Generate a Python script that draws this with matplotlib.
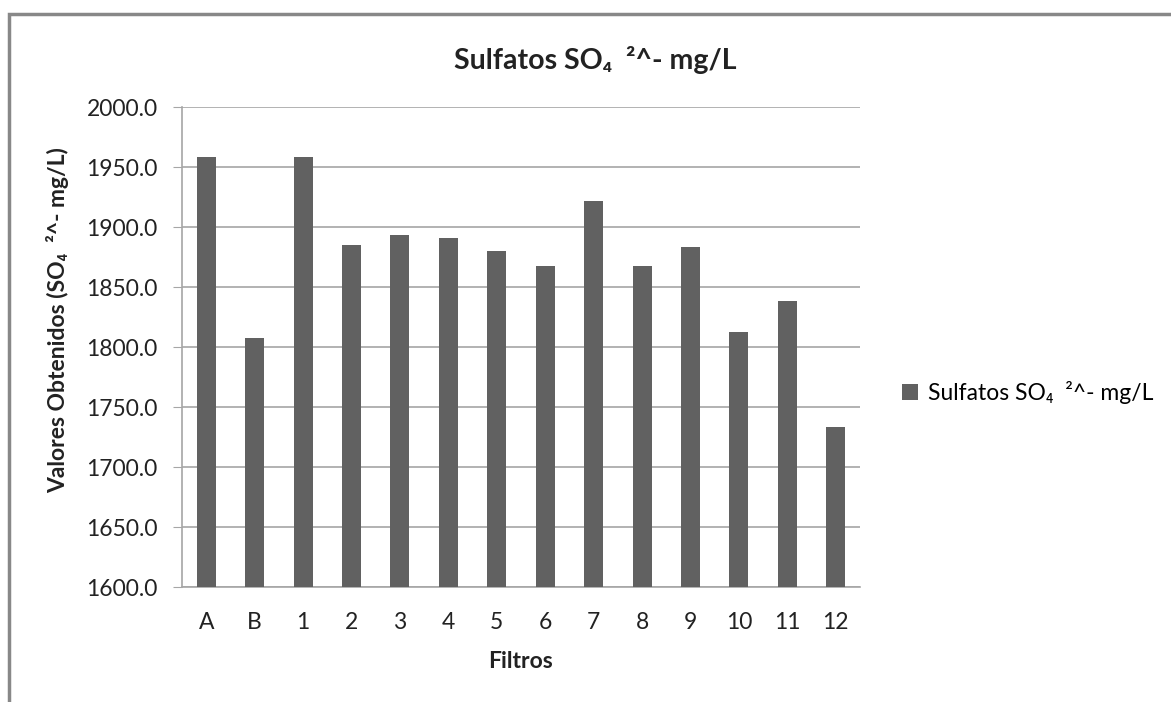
import matplotlib.pyplot as plt
import matplotlib.patches as patches

plt.rcParams['font.family'] = ['Lato', 'DejaVu Sans']

# datos
filtros = ['A', 'B', '1', '2', '3', '4', '5', '6', '7', '8', '9', '10', '11', '12']
sulfatos = [1958.6, 1807.5, 1958.6, 1885.0, 1893.6, 1890.6, 1879.7, 1867.2,
            1921.5, 1867.5, 1883.3, 1812.2, 1838.3, 1733.1]
yticks = [1600, 1650, 1700, 1750, 1800, 1850, 1900, 1950, 2000]

titulo = 'Sulfatos SO\u2084  \u00b2^- mg/L'
bar_color = '#616161'
grid_color = '#a6a6a6'
txt_color = '#222222'

fig = plt.figure(figsize=(11.71, 7.02), dpi=100)
ax = fig.add_axes([182/1171, 1 - 587/702, (860-182)/1171, (587-107)/702])

x = range(len(filtros))
ax.bar(x, sulfatos, width=0.39, color=bar_color, label=titulo, zorder=3)

ax.set_xlim(-0.5, len(filtros) - 0.5)
ax.set_ylim(1600, 2000)
ax.set_yticks(yticks)
ax.set_yticklabels(['%.1f' % v for v in yticks], fontsize=16.5, color=txt_color)
ax.set_xticks(list(x))
ax.set_xticklabels(filtros, fontsize=16.5, color=txt_color)
ax.yaxis.grid(True, color=grid_color, linewidth=1.2, zorder=0)

for s in ['top', 'right']:
    ax.spines[s].set_visible(False)
ax.spines['left'].set_color(grid_color)
ax.spines['bottom'].set_color(grid_color)
ax.spines['left'].set_linewidth(1.2)
ax.spines['bottom'].set_linewidth(1.2)
ax.tick_params(axis='y', length=6.5, color=grid_color, pad=11, direction='out')
ax.tick_params(axis='x', length=0, pad=18)

ax.set_xlabel('Filtros', fontsize=16.5, fontweight='bold', labelpad=13, color=txt_color)
ax.set_ylabel('Valores Obtenidos (SO\u2084  \u00b2^- mg/L)', fontsize=16.5, fontweight='bold', color=txt_color)
ax.yaxis.set_label_coords(-0.167, 0.556)
fig.text(595/1171, 1 - 60/702, titulo, fontsize=20.5, fontweight='bold', ha='center', va='center',
         color=txt_color)

ax.legend(loc='center left', bbox_to_anchor=(1.032, 0.406), frameon=False, fontsize=16.5,
          handlelength=0.7, handleheight=0.7, handletextpad=0.4)

# marco del grafico
fig.patches.append(patches.Rectangle((9/1171, -0.1), 1.2, 1 - 14/702 + 0.1,
                                     transform=fig.transFigure, fill=False,
                                     edgecolor='#888888', linewidth=2.5))

fig.savefig('out.png', dpi=100)
